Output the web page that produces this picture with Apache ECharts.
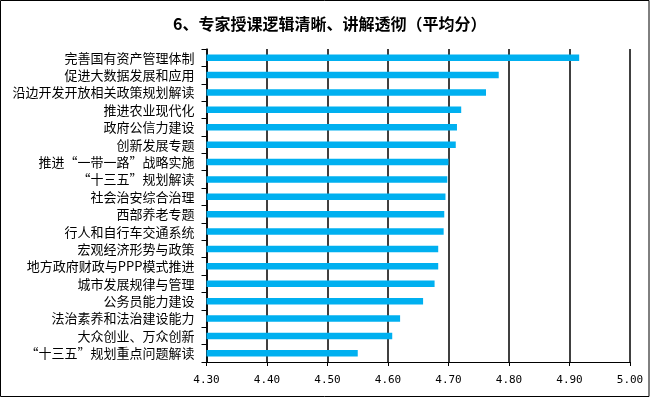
<!DOCTYPE html>
<html>
<head>
<meta charset="utf-8">
<script src="https://cdn.jsdelivr.net/npm/echarts@6/dist/echarts.min.js"></script>
<style>
html,body{margin:0;padding:0;background:#fff;}
#c{width:650px;height:398px;}
</style>
</head>
<body>
<div id="c"></div>
<script>
const titleText = '6、专家授课逻辑清晰、讲解透彻（平均分）';
const categories = [
  '完善国有资产管理体制',
  '促进大数据发展和应用',
  '沿边开发开放相关政策规划解读',
  '推进农业现代化',
  '政府公信力建设',
  '创新发展专题',
  '推进“一带一路”战略实施',
  '“十三五”规划解读',
  '社会治安综合治理',
  '西部养老专题',
  '行人和自行车交通系统',
  '宏观经济形势与政策',
  '地方政府财政与PPP模式推进',
  '城市发展规律与管理',
  '公务员能力建设',
  '法治素养和法治建设能力',
  '大众创业、万众创新',
  '“十三五”规划重点问题解读'
];
const scores = [4.916, 4.783, 4.762, 4.721, 4.714, 4.712, 4.700, 4.698, 4.695, 4.693, 4.692, 4.683, 4.683, 4.677, 4.658, 4.620, 4.607, 4.550];
const axisMin = 4.3;
const axisMax = 5.0;
const axisStep = 0.1;

const chart = echarts.init(document.getElementById('c'), null, {renderer: 'canvas'});
chart.setOption({
  animation: false,
  backgroundColor: '#ffffff',
  title: {
    text: titleText,
    left: 168,
    top: 11,
    textStyle: {fontFamily: 'Noto Sans CJK SC', fontSize: 16, fontWeight: 'bold', color: '#000'}
  },
  graphic: [{
    type: 'rect',
    shape: {x: 0.5, y: 0.5, width: 648.5, height: 396},
    style: {fill: 'none', stroke: '#000', lineWidth: 1},
    silent: true
  }],
  grid: {left: 206.5, right: 20, top: 49, bottom: 36, containLabel: false},
  xAxis: {
    type: 'value',
    min: axisMin,
    max: axisMax,
    interval: axisStep,
    axisLine: {show: true, lineStyle: {color: '#000', width: 1}},
    axisTick: {show: true, length: 4, lineStyle: {color: '#000'}},
    splitLine: {show: true, lineStyle: {color: '#000', width: 1.5}},
    axisLabel: {
      color: '#000', fontSize: 11, fontFamily: 'DejaVu Sans Mono', margin: 13,
      formatter: v => v.toFixed(2)
    }
  },
  yAxis: {
    type: 'category',
    data: categories,
    inverse: true,
    axisLine: {show: true, lineStyle: {color: '#000', width: 1.5}},
    axisTick: {show: true, length: 5, alignWithLabel: false, lineStyle: {color: '#000'}},
    axisLabel: {color: '#000', fontSize: 13, fontFamily: 'Noto Sans CJK SC', margin: 12}
  },
  series: [{
    type: 'bar',
    data: scores,
    barWidth: 6.5,
    itemStyle: {color: '#00B0F0'},
    clip: true
  }]
});
</script>
</body>
</html>
